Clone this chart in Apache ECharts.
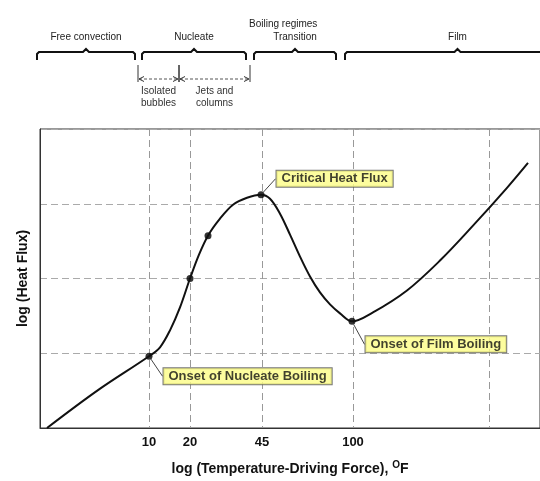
<!DOCTYPE html>
<html>
<head>
<meta charset="utf-8">
<script src="https://cdn.jsdelivr.net/npm/echarts@6/dist/echarts.min.js"></script>
<style>
  html, body { margin: 0; padding: 0; background: #fff; }
  #chart { width: 540px; height: 481px; }
</style>
</head>
<body>
<div id="chart"></div>
<script>
// x and y are in plot units (no real scale in the source figure, just log positions)
const tempTicks = [109, 150, 222, 313, 449];
const tempLabels = ['10', '20', '45', '100', ''];

const curveX = [7, 58, 109, 120, 130, 140, 150, 159, 168, 180, 193, 207, 221, 230, 240, 250, 260, 270, 280, 290, 300, 312, 333, 367, 400, 433, 467, 488];
const curveY = [0, 38, 72, 81, 98, 121, 150, 174, 193, 210, 224, 231, 234, 230, 215, 194, 172, 152, 136, 124, 115, 107, 116, 138, 168, 203, 241, 266];

const pointX = [109, 150, 168, 221, 312];
const pointY = [72, 150, 193, 234, 107];
const pointNames = ['Onset of Nucleate Boiling', '', '', 'Critical Heat Flux', 'Onset of Film Boiling'];
const labelShift = [[6, 20], [0, 0], [0, 0], [7, -16], [5, 23]];

const regimeNames = ['Free convection', 'Nucleate', 'Transition', 'Film'];
const regimeStart = [-3, 102, 214, 305];
const regimeEnd = [95, 206, 296, 530];

const subNames = ['Isolated\nbubbles', 'Jets and\ncolumns'];
const subStart = [98, 139];
const subEnd = [139, 210];

const chart = echarts.init(document.getElementById('chart'));

function bracket(api) {
    const x0 = api.coord([api.value(0), 0])[0];
    const x1 = api.coord([api.value(1), 0])[0];
    const cx = (x0 + x1) / 2;
    return {
        type: 'group',
        children: [
            {
                type: 'polyline',
                shape: { points: [[x0, 60], [x0, 54], [x0 + 2, 52], [cx - 3, 52], [cx, 49], [cx + 3, 52], [x1 - 2, 52], [x1, 54], [x1, 60]] },
                style: { stroke: '#111', lineWidth: 2, fill: null }
            },
            {
                type: 'text',
                x: cx, y: 37,
                style: { text: regimeNames[api.value(2)], fill: '#222', fontSize: 10, fontFamily: 'Liberation Sans', align: 'center', verticalAlign: 'middle' }
            }
        ]
    };
}

function subBracket(api) {
    const x0 = api.coord([api.value(0), 0])[0];
    const x1 = api.coord([api.value(1), 0])[0];
    const cx = (x0 + x1) / 2;
    return {
        type: 'group',
        children: [
            { type: 'line', shape: { x1: x0, y1: 65, x2: x0, y2: 82 }, style: { stroke: '#333', lineWidth: 1 } },
            { type: 'line', shape: { x1: x1, y1: 65, x2: x1, y2: 82 }, style: { stroke: '#333', lineWidth: 1 } },
            { type: 'line', shape: { x1: x0 + 1, y1: 79, x2: x1 - 1, y2: 79 }, style: { stroke: '#555', lineWidth: 1, lineDash: [3, 2] } },
            { type: 'polyline', shape: { points: [[x0 + 6, 76.5], [x0 + 1, 79], [x0 + 6, 81.5]] }, style: { stroke: '#333', lineWidth: 1, fill: null } },
            { type: 'polyline', shape: { points: [[x1 - 6, 76.5], [x1 - 1, 79], [x1 - 6, 81.5]] }, style: { stroke: '#333', lineWidth: 1, fill: null } },
            {
                type: 'text',
                x: cx, y: 97,
                style: { text: subNames[api.value(2)], fill: '#333', fontSize: 10, lineHeight: 12, fontFamily: 'Liberation Sans', align: 'center', verticalAlign: 'middle' }
            }
        ]
    };
}

const option = {
    animation: false,
    title: {
        text: 'Boiling regimes',
        left: 244,
        top: 14,
        textStyle: { fontSize: 10, fontWeight: 'normal', color: '#222', fontFamily: 'Liberation Sans' }
    },
    grid: {
        left: 40,
        right: 0,
        top: 129,
        bottom: 53,
        show: true,
        borderColor: '#333',
        borderWidth: 1
    },
    xAxis: {
        type: 'value',
        min: 0,
        max: 500,
        name: 'log (Temperature-Driving Force), {sup|O}F',
        nameLocation: 'middle',
        nameGap: 32,
        nameTextStyle: {
            fontSize: 14, fontWeight: 'bold', color: '#111', fontFamily: 'Liberation Sans',
            rich: { sup: { fontSize: 10, fontWeight: 'bold', color: '#111', verticalAlign: 'top', padding: [0, 0, 8, 0] } }
        },
        axisLine: { show: true, lineStyle: { color: '#333', width: 1 } },
        axisTick: { show: false, customValues: tempTicks },
        axisLabel: {
            customValues: tempTicks,
            formatter: function (v) { return tempLabels[tempTicks.indexOf(v)] || ''; },
            fontSize: 13, fontWeight: 'bold', color: '#111', fontFamily: 'Liberation Sans', margin: 8
        },
        splitLine: { show: true, lineStyle: { color: '#999', type: [7, 4], width: 1 } }
    },
    yAxis: {
        type: 'value',
        min: 0,
        max: 300,
        interval: 75,
        name: 'log (Heat Flux)',
        nameLocation: 'middle',
        nameRotate: 90,
        nameGap: 10,
        nameTextStyle: { fontSize: 14, fontWeight: 'bold', color: '#111', fontFamily: 'Liberation Sans' },
        axisLine: { show: true, lineStyle: { color: '#333', width: 1 } },
        axisTick: { show: false },
        axisLabel: { show: false },
        splitLine: { show: true, lineStyle: { color: '#aaa', type: [7, 4], width: 1 } }
    },
    series: [
        {
            type: 'custom',
            coordinateSystem: 'cartesian2d',
            clip: false,
            silent: true,
            renderItem: function (params, api) { return bracket(api); },
            data: regimeNames.map((n, i) => [regimeStart[i], regimeEnd[i], i])
        },
        {
            type: 'custom',
            coordinateSystem: 'cartesian2d',
            clip: false,
            silent: true,
            renderItem: function (params, api) { return subBracket(api); },
            data: subNames.map((n, i) => [subStart[i], subEnd[i], i])
        },
        {
            type: 'line',
            smooth: 0.35,
            showSymbol: false,
            lineStyle: { color: '#111', width: 2 },
            data: curveX.map((x, i) => [x, curveY[i]])
        },
        {
            type: 'scatter',
            symbolSize: 7,
            itemStyle: { color: '#000' },
            data: pointX.map((x, i) => ({
                value: [x, pointY[i]],
                name: pointNames[i],
                label: { show: pointNames[i] !== '' },
                labelLine: { show: pointNames[i] !== '' }
            })),
            label: {
                show: true,
                position: 'right',
                formatter: function (p) { return p.name; },
                fontSize: 13,
                fontWeight: 'bold',
                fontFamily: 'Liberation Sans',
                color: '#111',
                backgroundColor: '#fdfd86',
                borderColor: '#555',
                borderWidth: 1,
                padding: [2, 5, 1, 5]
            },
            labelLine: { show: true, lineStyle: { color: '#444', width: 1 } },
            labelLayout: function (p) {
                const s = labelShift[p.dataIndex];
                return { dx: s[0], dy: s[1] };
            }
        }
    ]
};

chart.setOption(option);
</script>
</body>
</html>
